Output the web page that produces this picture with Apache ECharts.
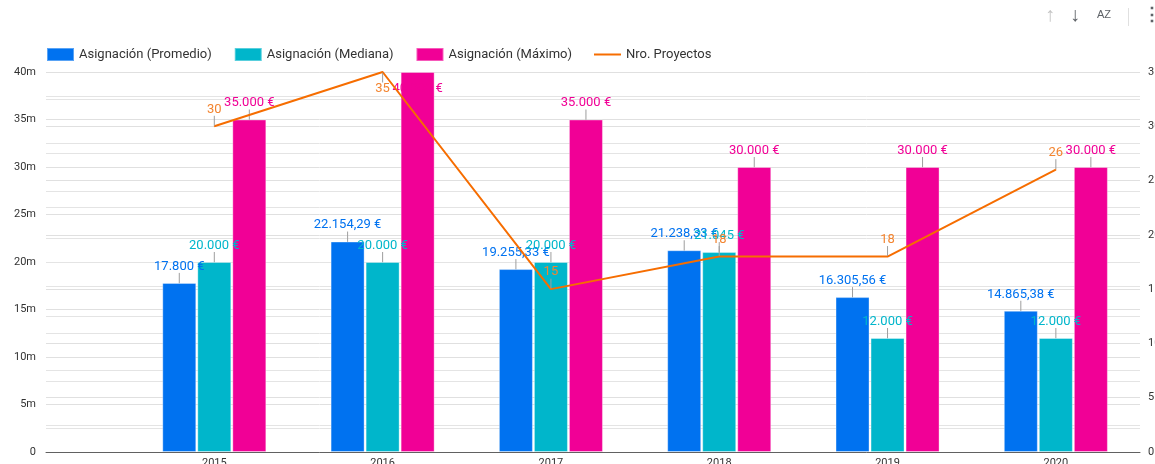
<!DOCTYPE html>
<html>
<head>
<meta charset="utf-8">
<title>Asignación por año</title>
<script src="https://cdn.jsdelivr.net/npm/echarts@6/dist/echarts.min.js"></script>
<style>
	html,body{margin:0;padding:0;background:#fff;}
	#main{width:1155px;height:464px;}
</style>
</head>
<body>
<div id="main"></div>
<script>
	// datos
	var years = ['2015', '2016', '2017', '2018', '2019', '2020'];
	var promedio = [17800, 22154.29, 19255.33, 21238.33, 16305.56, 14865.38];
	var mediana = [20000, 20000, 20000, 21045, 12000, 12000];
	var maximo = [35000, 40000, 35000, 30000, 30000, 30000];
	var proyectos = [30, 35, 15, 18, 18, 26];
	var leftTicks = [0, 40000, 5000];
	var rightTicks = [0, 35, 5];

	var colors = ['#0072f0', '#00b6cb', '#f10096', '#f66d00'];
	var font = 'Roboto, "Noto Sans", sans-serif';

	function euro(v){
		var s = Number.isInteger(v) ? String(v) : v.toFixed(2);
		var parts = s.split('.');
		var ent = parts[0].replace(/\B(?=(\d{3})+(?!\d))/g, '.');
		return ent + (parts[1] ? ',' + parts[1] : '') + ' €';
	}
	function pairs(arr){
		return arr.map(function(v, i){ return [i, v]; });
	}

	var barLabel = function(color){
		return {
			show: true,
			position: 'top',
			distance: 0,
			color: color,
			fontSize: 13,
			fontFamily: font,
			formatter: function(p){ return euro(p.value[1]); }
		};
	};
	var guide = {show: true, length2: 0, lineStyle: {color: '#9e9e9e', width: 1}};

	// el máximo de 2016 llega al tope: etiqueta dentro de la barra
	var maxData = pairs(maximo).map(function(d){
		if(d[1] >= leftTicks[1]){
			return {value: d, label: {position: 'insideTop', distance: 0}};
		}
		return d;
	});
	var lineData = pairs(proyectos).map(function(d){
		if(d[1] >= rightTicks[1]){
			return {value: d, label: {position: 'bottom', distance: 0}};
		}
		return d;
	});
	function pushLabel(p){
		var inside = (p.seriesIndex === 2 && maximo[p.dataIndex] >= leftTicks[1]) ||
			(p.seriesIndex === 3 && proyectos[p.dataIndex] >= rightTicks[1]);
		return {dy: inside ? 10 : -10};
	}

	var chart = echarts.init(document.getElementById('main'));
	var option = {
		animation: false,
		color: colors,
		textStyle: {fontFamily: font},
		legend: {
			left: 46,
			top: 47,
			padding: 0,
			itemWidth: 27,
			itemHeight: 13,
			itemGap: 22,
			textStyle: {fontSize: 13, color: '#333', fontFamily: font},
			data: [
				{name: 'Asignación (Promedio)', icon: 'rect'},
				{name: 'Asignación (Mediana)', icon: 'rect'},
				{name: 'Asignación (Máximo)', icon: 'rect'},
				{name: 'Nro. Proyectos', icon: 'path://M0,0 L27,0 L27,2 L0,2 Z'}
			]
		},
		grid: {left: 46, right: 15, top: 72, bottom: 12, containLabel: false, outerBoundsMode: 'none'},
		xAxis: {
			type: 'value',
			min: -1,
			max: 5.5,
			interval: 1,
			splitLine: {show: false},
			axisTick: {show: false},
			axisLine: {show: true, onZero: false, lineStyle: {color: '#616161', width: 1}},
			axisLabel: {
				margin: 6,
				fontSize: 11,
				color: '#333',
				showMinLabel: true,
				showMaxLabel: true,
				formatter: function(v){ return years[v] || ''; }
			}
		},
		yAxis: [
			{
				type: 'value',
				min: leftTicks[0],
				max: leftTicks[1],
				interval: leftTicks[2],
				axisLine: {show: false},
				axisTick: {show: false},
				axisLabel: {
					margin: 10,
					fontSize: 11,
					color: '#333',
					formatter: function(v){ return v === 0 ? '0' : (v / 1000) + 'm'; }
				},
				splitLine: {lineStyle: {color: '#e0e0e0'}},
				minorTick: {show: false, splitNumber: 2},
				minorSplitLine: {show: true, lineStyle: {color: '#e4e4e4'}}
			},
			{
				type: 'value',
				position: 'right',
				min: rightTicks[0],
				max: rightTicks[1],
				interval: rightTicks[2],
				axisLine: {show: false},
				axisTick: {show: false},
				axisLabel: {margin: 8, fontSize: 11, color: '#333'},
				splitLine: {lineStyle: {color: '#e0e0e0'}},
				minorTick: {show: false, splitNumber: 2},
				minorSplitLine: {show: true, lineStyle: {color: '#e4e4e4'}}
			}
		],
		series: [
			{
				name: 'Asignación (Promedio)',
				type: 'bar',
				barWidth: 34,
				barGap: '3%',
				itemStyle: {borderColor: 'rgba(255,255,255,0.35)', borderWidth: 1},
				label: barLabel(colors[0]),
				labelLine: guide,
				labelLayout: pushLabel,
				data: pairs(promedio)
			},
			{
				name: 'Asignación (Mediana)',
				type: 'bar',
				barWidth: 34,
				barGap: '3%',
				itemStyle: {borderColor: 'rgba(255,255,255,0.35)', borderWidth: 1},
				label: barLabel(colors[1]),
				labelLine: guide,
				labelLayout: pushLabel,
				data: pairs(mediana)
			},
			{
				name: 'Asignación (Máximo)',
				type: 'bar',
				barWidth: 34,
				barGap: '3%',
				itemStyle: {borderColor: 'rgba(255,255,255,0.35)', borderWidth: 1},
				label: barLabel(colors[2]),
				labelLine: guide,
				labelLayout: pushLabel,
				data: maxData
			},
			{
				name: 'Nro. Proyectos',
				type: 'line',
				yAxisIndex: 1,
				z: 5,
				symbol: 'circle',
				symbolSize: 1,
				lineStyle: {width: 2, color: colors[3]},
				itemStyle: {color: colors[3]},
				label: {
					show: true,
					position: 'top',
					distance: 0,
					color: '#f3842f',
					fontSize: 13,
					fontFamily: font,
					formatter: function(p){ return p.value[1]; }
				},
				labelLine: guide,
				labelLayout: pushLabel,
				data: lineData
			}
		],
		graphic: [
			{type: 'text', left: 1045, top: 5, style: {text: '↑', fontSize: 20, fontWeight: 'bold', fill: '#c4c4c4'}},
			{type: 'text', left: 1070, top: 5, style: {text: '↓', fontSize: 20, fontWeight: 'bold', fill: '#5f6368'}},
			{type: 'text', left: 1097, top: 9, style: {text: 'AZ', fontSize: 11, fill: '#5f6368'}},
			{type: 'rect', left: 1128, top: 8, shape: {width: 1, height: 18}, style: {fill: '#e0e0e0'}},
			{type: 'text', left: 1143, top: 6, style: {text: '⋮', fontSize: 18, fontWeight: 'bold', fill: '#5f6368'}}
		]
	};
	chart.setOption(option);
</script>
</body>
</html>
